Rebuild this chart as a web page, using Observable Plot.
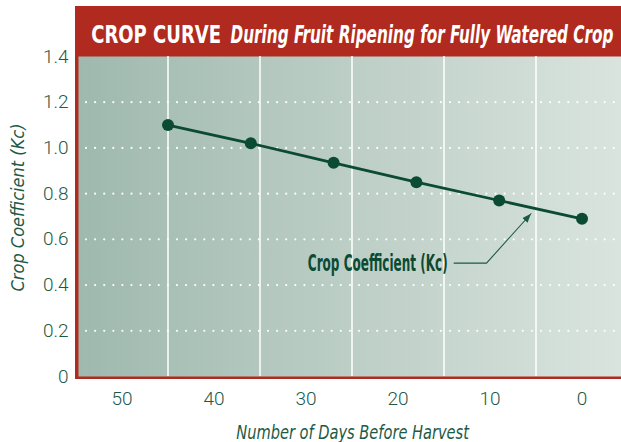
<!DOCTYPE html>
<html>
<head>
<meta charset="utf-8">
<script src="https://cdn.jsdelivr.net/npm/d3@7"></script>
<script src="https://cdn.jsdelivr.net/npm/@observablehq/plot@0.6"></script>
<style>
  html, body { margin: 0; padding: 0; background: #ffffff; }
  #wrap { position: relative; width: 621px; height: 442px; overflow: hidden; }
  #redframe { position: absolute; left: 75px; top: 6px; width: 546px; height: 373px; background: #b12a1f; }
  #chart { position: absolute; left: 0; top: 0; }
</style>
</head>
<body>
<div id="wrap">
  <div id="redframe"></div>
  <div id="chart"></div>
</div>
<script>
// ---- data ----
const days = [45, 36, 27, 18, 9, 0];
const kc = [1.10, 1.02, 0.935, 0.85, 0.77, 0.69];
const xTicks = [50, 40, 30, 20, 10, 0];
const yTicks = [0, 0.2, 0.4, 0.6, 0.8, 1.0, 1.2, 1.4];
const vGrid = [45, 35, 25, 15, 5];
const hGrid = [0.2, 0.4, 0.6, 0.8, 1.0, 1.2];
const titleMain = "CROP CURVE";
const titleSub = "During Fruit Ripening for Fully Watered Crop";
const xLabel = "Number of Days Before Harvest";
const yLabel = "Crop Coefficient (Kc)";
const seriesLabel = "Crop Coefficient (Kc)";
const annotationLabelPos = [{x: 14.6, y: 0.462}];
const annotationConnector = [{x: 13.9, y: 0.496}, {x: 10.38, y: 0.496}, {x: 5.55, y: 0.712}];

const points = days.map((d, i) => ({day: d, kc: kc[i]}));

const green = "#0b4a33";
const textGreen = "#1d5a46";
const connectorColor = "#1b5a45";
const narrow = "'Liberation Sans Narrow', 'DejaVu Sans Condensed', 'Arial Narrow', sans-serif";

const plot = Plot.plot({
  width: 621,
  height: 442,
  marginTop: 56,
  marginBottom: 66,
  marginLeft: 78,
  marginRight: 0,
  style: {
    background: "transparent",
    fontFamily: "Roboto, 'Liberation Sans', sans-serif",
    fontSize: "19px",
    fontWeight: 300,
    color: textGreen,
    overflow: "visible"
  },
  x: {domain: [54.728, -4.293], ticks: xTicks, tickSize: 0, tickPadding: 15, label: null, tickFormat: d => String(d)},
  y: {domain: [0, 1.4], ticks: yTicks, tickSize: 0, tickPadding: 10, label: null,
      tickFormat: d => d === 0 ? "0" : d.toFixed(1)},
  marks: [
    Plot.frame({fill: "url(#bgGrad)", stroke: "none"}),
    Plot.ruleX(vGrid, {stroke: "white", strokeWidth: 1.6, strokeOpacity: 0.95}),
    Plot.ruleY(hGrid, {stroke: "white", strokeWidth: 2.2, strokeDasharray: "0 9.1", strokeDashoffset: -8, strokeLinecap: "round", strokeOpacity: 0.95}),
    Plot.line(points, {x: "day", y: "kc", stroke: green, strokeWidth: 2.8}),
    Plot.dot(points, {x: "day", y: "kc", r: 6, fill: green, stroke: "none"}),
    Plot.line(annotationConnector, {x: "x", y: "y", stroke: connectorColor, strokeWidth: 1.1, curve: "linear"}),
    Plot.text(annotationLabelPos, {x: "x", y: "y", text: () => seriesLabel, textAnchor: "end", lineAnchor: "bottom",
      fill: green, fontSize: 23, fontWeight: "bold", fontFamily: narrow}),
    Plot.text([titleMain], {frameAnchor: "top-left", text: d => d, dx: 12.7, dy: -13.3, lineAnchor: "bottom", textAnchor: "start",
      fill: "white", fontSize: 25, fontWeight: "bold", fontFamily: narrow}),
    Plot.text([titleSub], {frameAnchor: "top-left", text: d => d, dx: 152, dy: -13.3, lineAnchor: "bottom", textAnchor: "start",
      fill: "white", fontSize: 25, fontWeight: "bold", fontStyle: "italic", fontFamily: narrow}),
    Plot.text([xLabel], {frameAnchor: "bottom", text: d => d, dx: 2.5, dy: 62, lineAnchor: "bottom",
      fill: textGreen, fontSize: 19, fontStyle: "italic", fontFamily: narrow}),
    Plot.text([yLabel], {frameAnchor: "left", text: d => d, dx: -60, dy: -9, rotate: -90, lineAnchor: "middle", textAnchor: "middle",
      fill: textGreen, fontSize: 18, fontStyle: "italic", fontFamily: narrow})
  ]
});

document.getElementById("chart").appendChild(plot);

// gradient + arrow marker definitions
const svg = d3.select(plot);
const defs = svg.insert("defs", ":first-child");
const grad = defs.append("linearGradient").attr("id", "bgGrad").attr("x1", "0").attr("x2", "1").attr("y1", "0").attr("y2", "0");
grad.append("stop").attr("offset", "0").attr("stop-color", "#9fb9ae");
grad.append("stop").attr("offset", "0.5").attr("stop-color", "#bccec6");
grad.append("stop").attr("offset", "1").attr("stop-color", "#dae4df");
const marker = defs.append("marker").attr("id", "arrowHead")
  .attr("viewBox", "0 0 10 10").attr("refX", 10).attr("refY", 5)
  .attr("markerWidth", 9).attr("markerHeight", 7).attr("markerUnits", "userSpaceOnUse")
  .attr("preserveAspectRatio", "none").attr("orient", "auto");
marker.append("path").attr("d", "M0,0L10,5L0,10Z").attr("fill", connectorColor);

svg.selectAll("g[stroke='" + connectorColor + "'] path").attr("marker-end", "url(#arrowHead)");

// horizontally condense texts to the reference widths (scale around the anchor)
function fitWidth(el, target, anchor) {
  const r = el.getBoundingClientRect();
  if (!r.width) return;
  const sx = target / r.width;
  const parent = el.parentNode;
  const pt = plot.createSVGPoint();
  pt.x = anchor === "end" ? r.right : anchor === "middle" ? (r.left + r.right) / 2 : r.left;
  pt.y = r.top;
  const p = pt.matrixTransform(parent.getScreenCTM().inverse());
  const g = document.createElementNS("http://www.w3.org/2000/svg", "g");
  parent.insertBefore(g, el);
  g.appendChild(el);
  g.setAttribute("transform", `translate(${p.x},0) scale(${sx},1) translate(${-p.x},0)`);
}
const fits = [
  [titleMain, 130, "start", false],
  [titleSub, 383, "start", false],
  [xLabel, 234, "middle", false],
  [seriesLabel, 140, "end", true]
];
const allTexts = Array.from(plot.querySelectorAll("text"));
for (const [t, w, a, isSeries] of fits) {
  const el = allTexts.find(e => e.textContent === t && (!isSeries || e.getAttribute("font-weight") === "bold" || (e.parentNode && e.parentNode.getAttribute("font-weight") === "bold")));
  if (el) fitWidth(el, w, a);
}
</script>
</body>
</html>
